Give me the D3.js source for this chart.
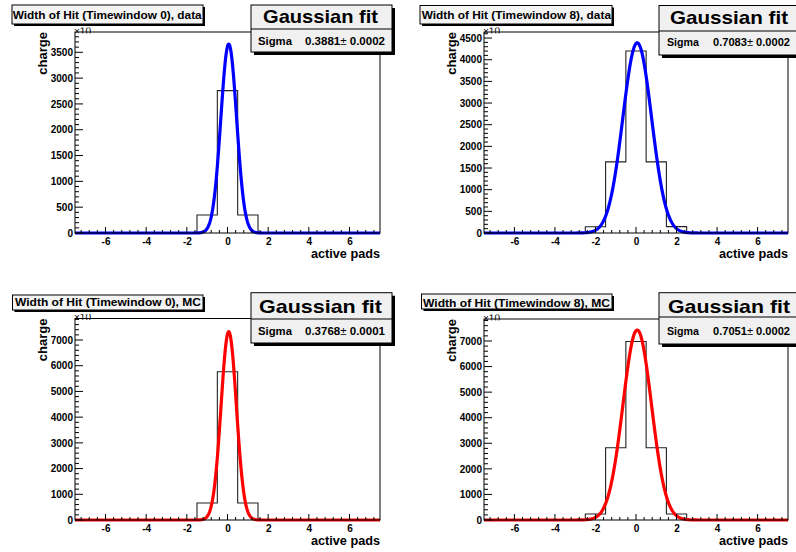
<!DOCTYPE html>
<html><head><meta charset="utf-8">
<script src="https://cdn.jsdelivr.net/npm/d3@7"></script>
<style>
body{margin:0;background:#fff;}
svg{display:block;font-family:"Liberation Sans",Arial,Helvetica,sans-serif;}
</style></head>
<body>
<svg id="c" width="796" height="552"></svg>
<script>
// ---- data ----
const binCenters = [-7,-6,-5,-4,-3,-2,-1,0,1,2,3,4,5,6,7];
const countsTW0data = [0,0,0,0,0,0,349,2758,350,0,0,0,0,0,0];
const countsTW8data = [0,0,0,0,0,145,1643,4200,1643,148,0,0,0,0,0];
const countsTW0mc   = [0,0,0,0,0,0,661,5768,662,0,0,0,0,0,0];
const countsTW8mc   = [0,0,0,0,0,233,2828,6980,2828,236,0,0,0,0,0];
const titles = ["Width of Hit (Timewindow 0), data","Width of Hit (Timewindow 8), data",
                "Width of Hit (Timewindow 0), MC","Width of Hit (Timewindow 8), MC"];
const fitSigma = [0.3881, 0.7083, 0.3768, 0.7051];
const fitSigmaErr = ["0.0002","0.0002","0.0001","0.0002"];
const fitAmp  = [3660, 4390, 7325, 7430];
const fitMean = [0.06, 0.06, 0.06, 0.06];
const yMax = [3893, 4640, 7836, 7860];
const yTickStep = [500, 500, 1000, 1000];
const xTicks = [-6,-4,-2,0,2,4,6];
const xLabel = "active pads", yLabel = "charge";
const fitColors = ["#0000ff","#0000ff","#ff0000","#ff0000"];

// ---- layout ----
const panels = [
 {fx0:75, fx1:380, fy0:32, fy1:233, title:{x0:12,x1:203,y0:5,y1:24,tx0:12.7,tx1:201.7,tb:19},
  stats:{x0:251,x1:392,y0:5,y1:52,yd:29,g0:263,g1:378,gb:22.7,s0:258,s1:292,sb:45,v0:305,v1:385}, xlb:245, alb:258},
 {fx0:484, fx1:788, fy0:32, fy1:233, title:{x0:420,x1:612,y0:5.5,y1:24,tx0:421.7,tx1:611,tb:19},
  stats:{x0:659,x1:802,y0:5.5,y1:55,yd:31,g0:670,g1:788,gb:24,s0:667,s1:699,sb:46,v0:713,v1:790}, xlb:245, alb:258},
 {fx0:75, fx1:380, fy0:318.5, fy1:520, title:{x0:12.5,x1:203,y0:295,y1:310,tx0:15,tx1:201,tb:305.7},
  stats:{x0:251,x1:392,y0:292.7,y1:343,yd:319,g0:259,g1:382,gb:312.7,s0:258,s1:292,sb:335,v0:305,v1:385}, xlb:532, alb:545},
 {fx0:484, fx1:788, fy0:319, fy1:520, title:{x0:421.5,x1:612,y0:294,y1:309,tx0:423,tx1:610,tb:306.5},
  stats:{x0:659,x1:802,y0:292.7,y1:344,yd:317,g0:668,g1:790,gb:313.3,s0:667,s1:699,sb:335,v0:713,v1:790}, xlb:532, alb:545}
];
const countsAll = [countsTW0data, countsTW8data, countsTW0mc, countsTW8mc];

const svg = d3.select("#c");
const defs = svg.append("defs");
const fmtInt = d => String(d);

panels.forEach((p, i) => {
  const g = svg.append("g");
  const x = d3.scaleLinear().domain([-7.5, 7.5]).range([p.fx0, p.fx1]);
  const y = d3.scaleLinear().domain([0, yMax[i]]).range([p.fy1, p.fy0]);

  const clipId = "clip" + i;
  defs.append("clipPath").attr("id", clipId).append("rect")
    .attr("x", p.fx0).attr("y", p.fy0).attr("width", p.fx1 - p.fx0).attr("height", p.fy1 - p.fy0 + 3);

  // histogram step outline
  const counts = countsAll[i];
  const pts = [];
  binCenters.forEach((c, k) => {
    pts.push([x(c - 0.5), y(counts[k])]);
    pts.push([x(c + 0.5), y(counts[k])]);
  });
  const hist = [[x(-7.5), y(0)], ...pts, [x(7.5), y(0)]];
  g.append("path").attr("clip-path", `url(#${clipId})`)
    .attr("d", d3.line()(hist)).attr("fill", "none").attr("stroke", "#222").attr("stroke-width", 1.1);

  // fit curve
  const xs = d3.range(-7.5, 7.5001, 0.02);
  const fit = xs.map(v => [x(v), y(fitAmp[i] * Math.exp(-0.5 * Math.pow((v - fitMean[i]) / fitSigma[i], 2)))]);
  g.append("path").attr("clip-path", `url(#${clipId})`)
    .attr("d", d3.line()(fit)).attr("fill", "none").attr("stroke", fitColors[i]).attr("stroke-width", 3.2)
    .attr("stroke-linejoin", "round");

  // frame
  g.append("rect").attr("x", p.fx0).attr("y", p.fy0).attr("width", p.fx1 - p.fx0).attr("height", p.fy1 - p.fy0)
    .attr("fill", "none").attr("stroke", "#000").attr("stroke-width", 1);

  // x axis ticks (inward, upward)
  const xMinor = d3.range(-7.2, 7.5, 0.4);
  xMinor.forEach(v => {
    const isMajor = Math.abs(v / 2 - Math.round(v / 2)) < 1e-6;
    g.append("line").attr("x1", x(v)).attr("x2", x(v)).attr("y1", p.fy1).attr("y2", p.fy1 - (isMajor ? 6 : 3))
      .attr("stroke", "#000").attr("stroke-width", 1);
  });
  const xa = g.append("g").attr("transform", `translate(0,${p.fy1})`)
    .call(d3.axisBottom(x).tickValues(xTicks).tickSize(0).tickPadding(0).tickFormat(fmtInt));
  xa.select(".domain").remove();
  xa.selectAll("text").attr("y", p.xlb - p.fy1).attr("dy", null)
    .style("font-size", "10px").style("font-weight", "bold").attr("fill", "#000")
    .style("font-family", '"Liberation Sans",Arial,sans-serif');

  // y axis ticks
  const step = yTickStep[i];
  const yMinorStep = step / 5;
  d3.range(0, yMax[i] + 1, yMinorStep).forEach(v => {
    const isMajor = Math.abs(v / step - Math.round(v / step)) < 1e-6;
    g.append("line").attr("x1", p.fx0).attr("x2", p.fx0 + (isMajor ? 8 : 4)).attr("y1", y(v)).attr("y2", y(v))
      .attr("stroke", "#000").attr("stroke-width", 1);
  });
  const yTicks = d3.range(0, yMax[i], step);
  const ya = g.append("g").attr("transform", `translate(${p.fx0},0)`)
    .call(d3.axisLeft(y).tickValues(yTicks).tickSize(0).tickPadding(2).tickFormat(fmtInt));
  ya.select(".domain").remove();
  ya.selectAll("text").style("font-size", "10px").style("font-weight", "bold").attr("fill", "#000")
    .style("font-family", '"Liberation Sans",Arial,sans-serif');

  // x10 exponent (clipped at top)
  const ecId = "eclip" + i;
  defs.append("clipPath").attr("id", ecId).append("rect")
    .attr("x", p.fx0 - 2).attr("y", p.fy0 - 4.5).attr("width", 30).attr("height", 6);
  g.append("text").attr("clip-path", `url(#${ecId})`).attr("x", p.fx0 - 1).attr("y", p.fy0 + 2.5)
    .style("font-size", "10px").attr("fill", "#000").text("×10");

  // axis labels
  g.append("text").attr("x", p.fx1).attr("y", p.alb).attr("text-anchor", "end")
    .style("font-size", "13px").style("font-weight", "bold").attr("textLength", 69).attr("lengthAdjust", "spacingAndGlyphs")
    .text(xLabel);
  g.append("text").attr("transform", `translate(${p.fx0 - 28},${p.fy0}) rotate(-90)`).attr("text-anchor", "end")
    .style("font-size", "13px").style("font-weight", "bold").text(yLabel);

  // title box
  const t = p.title;
  g.append("rect").attr("x", t.x0 + 2).attr("y", t.y0 + 2).attr("width", t.x1 - t.x0).attr("height", t.y1 - t.y0).attr("fill", "#000");
  g.append("rect").attr("x", t.x0).attr("y", t.y0).attr("width", t.x1 - t.x0).attr("height", t.y1 - t.y0)
    .attr("fill", "#f4f4f4").attr("stroke", "#000").attr("stroke-width", 1);
  g.append("text").attr("x", t.tx0).attr("y", t.tb).attr("textLength", t.tx1 - t.tx0).attr("lengthAdjust", "spacingAndGlyphs")
    .style("font-size", "11px").style("font-weight", "bold").text(titles[i]);

  // stats box
  const s = p.stats;
  g.append("rect").attr("x", s.x0 + 3).attr("y", s.y0 + 3).attr("width", s.x1 - s.x0).attr("height", s.y1 - s.y0).attr("fill", "#000");
  g.append("rect").attr("x", s.x0).attr("y", s.y0).attr("width", s.x1 - s.x0).attr("height", s.y1 - s.y0)
    .attr("fill", "#f0f0f0").attr("stroke", "#000").attr("stroke-width", 1);
  g.append("line").attr("x1", s.x0).attr("x2", s.x1).attr("y1", s.yd).attr("y2", s.yd).attr("stroke", "#000");
  g.append("text").attr("x", s.g0).attr("y", s.gb).attr("textLength", s.g1 - s.g0).attr("lengthAdjust", "spacingAndGlyphs")
    .style("font-size", "19px").style("font-weight", "bold").text("Gaussian fit");
  g.append("text").attr("x", s.s0).attr("y", s.sb).attr("textLength", s.s1 - s.s0).attr("lengthAdjust", "spacingAndGlyphs")
    .style("font-size", "10.5px").style("font-weight", "bold").text("Sigma");
  const vt = g.append("text").attr("x", s.v0).attr("y", s.sb).attr("textLength", s.v1 - s.v0).attr("lengthAdjust", "spacingAndGlyphs")
    .style("font-size", "10.5px").style("font-weight", "bold");
  vt.append("tspan").text(fitSigma[i].toFixed(4));
  vt.append("tspan").style("font-weight", "normal").text("± ");
  vt.append("tspan").text(fitSigmaErr[i]);
});
</script>
</body></html>
